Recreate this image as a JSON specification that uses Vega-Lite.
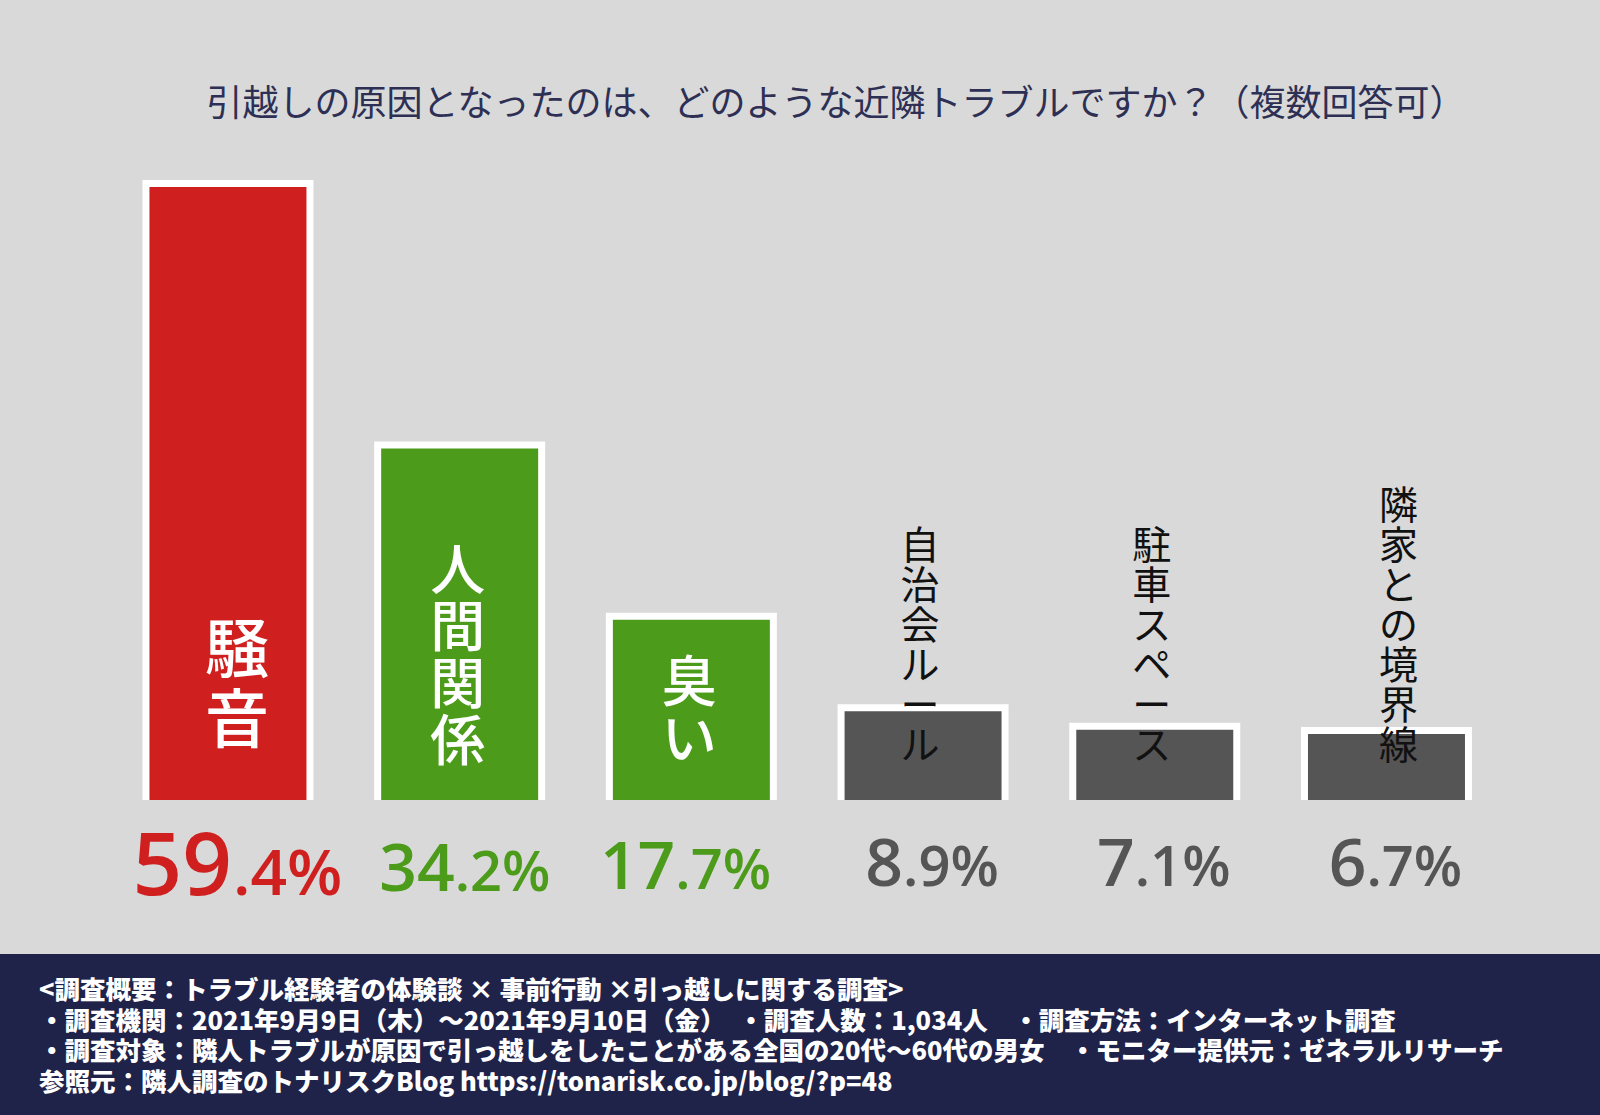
{
  "$schema": "https://vega.github.io/schema/vega-lite/v6.json",
  "background": "#d9d9d9",
  "padding": 0,
  "spacing": 154,
  "bounds": "flush",
  "config": {"view": {"stroke": null}},
  "vconcat": [
    {
      "width": 1600,
      "height": 800,
      "title": {
        "text": "引越しの原因となったのは、どのような近隣トラブルですか？（複数回答可）",
        "frame": "group",
        "anchor": "middle",
        "orient": "top",
        "offset": -141,
        "baseline": "middle",
        "dx": 36,
        "fontSize": 36,
        "font": "Noto Sans CJK JP",
        "fontWeight": "normal",
        "color": "#2d3054"
      },
      "data": {
        "values": [
          {"item": "騒音", "label": "騒\n音", "value": 59.4, "int": "59", "dec": ".4%"},
          {"item": "人間関係", "label": "人\n間\n関\n係", "value": 34.2, "int": "34", "dec": ".2%"},
          {"item": "臭い", "label": "臭\nい", "value": 17.7, "int": "17", "dec": ".7%"},
          {"item": "自治会ルール", "label": "自\n治\n会\nル\nー\nル", "value": 8.9, "int": "8", "dec": ".9%"},
          {"item": "駐車スペース", "label": "駐\n車\nス\nペ\nー\nス", "value": 7.1, "int": "7", "dec": ".1%"},
          {"item": "隣家との境界線", "label": "隣\n家\nと\nの\n境\n界\n線", "value": 6.7, "int": "6", "dec": ".7%"}
        ]
      },
      "encoding": {
        "x": {
          "field": "item",
          "type": "nominal",
          "sort": null,
          "axis": null,
          "scale": {"paddingInner": 0.2922, "paddingOuter": 0.5988, "align": 0.526}
        }
      },
      "layer": [
        {
          "mark": {"type": "bar", "stroke": "white", "strokeWidth": 7, "clip": true},
          "encoding": {
            "y": {"field": "value", "type": "quantitative", "axis": null,
                  "scale": {"domain": [0, 77.08], "nice": false, "zero": false}},
            "y2": {"datum": -2},
            "color": {
              "field": "item", "type": "nominal", "legend": null,
              "scale": {
                "domain": ["騒音", "人間関係", "臭い", "自治会ルール", "駐車スペース", "隣家との境界線"],
                "range": ["#cf1f1f", "#4c9b1a", "#4c9b1a", "#555555", "#555555", "#555555"]
              }
            }
          }
        },
        {
          "transform": [{"filter": {"field": "item", "equal": "騒音"}}],
          "mark": {"type": "text", "font": "Noto Sans CJK JP", "fontWeight": 500, "fontSize": 64, "lineHeight": 70,
                   "lineBreak": "\n", "color": "white", "baseline": "bottom", "align": "center", "dy": -115, "dx": 9},
          "encoding": {"y": {"datum": 0}, "text": {"field": "label"}}
        },
        {
          "transform": [{"filter": {"field": "item", "equal": "人間関係"}}],
          "mark": {"type": "text", "font": "Noto Sans CJK JP", "fontWeight": 500, "fontSize": 55, "lineHeight": 57,
                   "lineBreak": "\n", "color": "white", "baseline": "bottom", "align": "center", "dy": -199, "dx": -2},
          "encoding": {"y": {"datum": 0}, "text": {"field": "label"}}
        },
        {
          "transform": [{"filter": {"field": "item", "equal": "臭い"}}],
          "mark": {"type": "text", "font": "Noto Sans CJK JP", "fontWeight": 500, "fontSize": 55, "lineHeight": 57,
                   "lineBreak": "\n", "color": "white", "baseline": "bottom", "align": "center", "dy": -87, "dx": -2},
          "encoding": {"y": {"datum": 0}, "text": {"field": "label"}}
        },
        {
          "transform": [{"filter": {"field": "item", "oneOf": ["自治会ルール", "駐車スペース"]}}],
          "mark": {"type": "text", "font": "Noto Sans CJK JP", "fontWeight": "normal", "fontSize": 39, "lineHeight": 40,
                   "lineBreak": "\n", "color": "#111111", "baseline": "bottom", "align": "center", "dy": -233, "dx": -3},
          "encoding": {"y": {"datum": 0}, "text": {"field": "label"}}
        },
        {
          "transform": [{"filter": {"field": "item", "equal": "隣家との境界線"}}],
          "mark": {"type": "text", "font": "Noto Sans CJK JP", "fontWeight": "normal", "fontSize": 39, "lineHeight": 40,
                   "lineBreak": "\n", "color": "#111111", "baseline": "bottom", "align": "center", "dy": -273, "dx": 12},
          "encoding": {"y": {"datum": 0}, "text": {"field": "label"}}
        },
        {
          "transform": [{"filter": {"field": "item", "equal": "騒音"}}],
          "mark": {"type": "text", "font": "Open Sans", "fontWeight": 600, "fontSize": 87, "align": "right",
                   "baseline": "alphabetic", "dy": 95, "dx": 4},
          "encoding": {"y": {"datum": 0}, "text": {"field": "int"}, "color": {"field": "item", "type": "nominal", "legend": null}}
        },
        {
          "transform": [{"filter": {"field": "item", "equal": "騒音"}}],
          "mark": {"type": "text", "font": "Open Sans", "fontWeight": 600, "fontSize": 64, "align": "left",
                   "baseline": "alphabetic", "dy": 95, "dx": 5},
          "encoding": {"y": {"datum": 0}, "text": {"field": "dec"}, "color": {"field": "item", "type": "nominal", "legend": null}}
        },
        {
          "transform": [{"filter": {"field": "item", "equal": "人間関係"}}],
          "mark": {"type": "text", "font": "Open Sans", "fontWeight": 600, "fontSize": 66, "align": "right",
                   "baseline": "alphabetic", "dy": 91, "dx": -5},
          "encoding": {"y": {"datum": 0}, "text": {"field": "int"}, "color": {"field": "item", "type": "nominal", "legend": null}}
        },
        {
          "transform": [{"filter": {"field": "item", "equal": "人間関係"}}],
          "mark": {"type": "text", "font": "Open Sans", "fontWeight": 600, "fontSize": 56, "align": "left",
                   "baseline": "alphabetic", "dy": 91, "dx": -5},
          "encoding": {"y": {"datum": 0}, "text": {"field": "dec"}, "color": {"field": "item", "type": "nominal", "legend": null}}
        },
        {
          "transform": [{"filter": {"field": "item", "equal": "臭い"}}],
          "mark": {"type": "text", "font": "Open Sans", "fontWeight": 600, "fontSize": 66, "align": "right",
                   "baseline": "alphabetic", "dy": 89, "dx": -16},
          "encoding": {"y": {"datum": 0}, "text": {"field": "int"}, "color": {"field": "item", "type": "nominal", "legend": null}}
        },
        {
          "transform": [{"filter": {"field": "item", "equal": "臭い"}}],
          "mark": {"type": "text", "font": "Open Sans", "fontWeight": 600, "fontSize": 56, "align": "left",
                   "baseline": "alphabetic", "dy": 89, "dx": -16},
          "encoding": {"y": {"datum": 0}, "text": {"field": "dec"}, "color": {"field": "item", "type": "nominal", "legend": null}}
        },
        {
          "transform": [{"filter": {"field": "item", "oneOf": ["自治会ルール", "駐車スペース", "隣家との境界線"]}}],
          "mark": {"type": "text", "font": "Open Sans", "fontWeight": 600, "fontSize": 66, "align": "right",
                   "baseline": "alphabetic", "dy": 86, "dx": -20},
          "encoding": {"y": {"datum": 0}, "text": {"field": "int"}, "color": {"field": "item", "type": "nominal", "legend": null}}
        },
        {
          "transform": [{"filter": {"field": "item", "oneOf": ["自治会ルール", "駐車スペース", "隣家との境界線"]}}],
          "mark": {"type": "text", "font": "Open Sans", "fontWeight": 600, "fontSize": 56, "align": "left",
                   "baseline": "alphabetic", "dy": 86, "dx": -20},
          "encoding": {"y": {"datum": 0}, "text": {"field": "dec"}, "color": {"field": "item", "type": "nominal", "legend": null}}
        }
      ]
    },
    {
      "width": 1600,
      "height": 161,
      "view": {"fill": "#1f2249", "stroke": null},
      "title": {
        "text": [
          "<調査概要：トラブル経験者の体験談 × 事前行動 ×引っ越しに関する調査>",
          "・調査機関：2021年9月9日（木）～2021年9月10日（金）　・調査人数：1,034人　・調査方法：インターネット調査",
          "・調査対象：隣人トラブルが原因で引っ越しをしたことがある全国の20代～60代の男女　・モニター提供元：ゼネラルリサーチ",
          "参照元：隣人調査のトナリスクBlog  https://tonarisk.co.jp/blog/?p=48"
        ],
        "frame": "group",
        "orient": "top",
        "anchor": "start",
        "offset": -142,
        "baseline": "top",
        "dx": 39,
        "fontSize": 25.5,
        "lineHeight": 30.5,
        "font": "Noto Sans CJK JP",
        "fontWeight": 900,
        "color": "#ffffff"
      },
      "data": {"values": []},
      "mark": {"type": "rule"},
      "encoding": {}
    }
  ]
}
